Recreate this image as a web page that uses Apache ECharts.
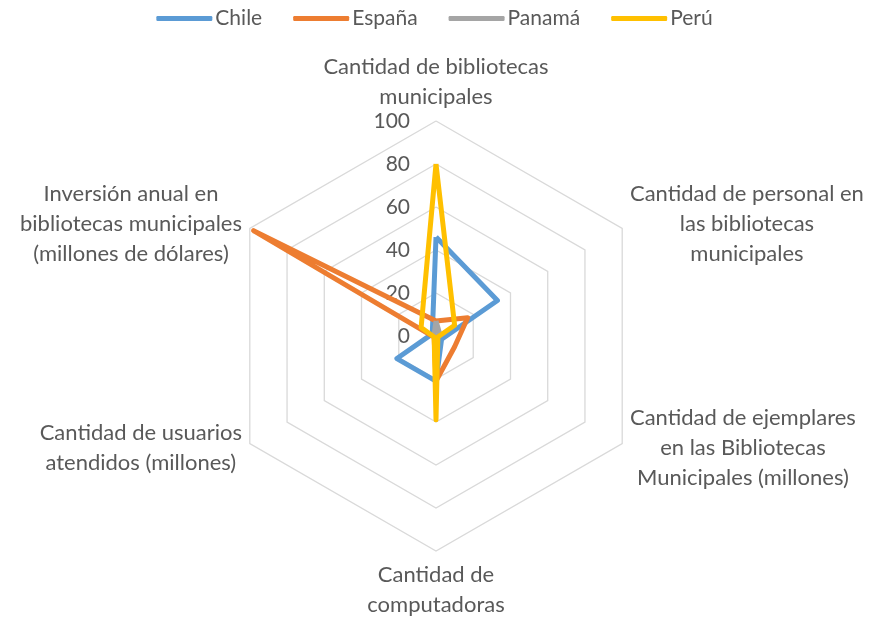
<!DOCTYPE html>
<html>
<head>
<meta charset="utf-8">
<script src="https://cdn.jsdelivr.net/npm/echarts@6/dist/echarts.min.js"></script>
<style>
  html, body { margin: 0; padding: 0; background: #fff; }
  #chart { width: 869px; height: 617px; }
</style>
</head>
<body>
<div id="chart"></div>
<script>
// Axes in the order of the reference (clockwise from the top)
const categories = [
  'Cantidad de bibliotecas\nmunicipales',
  'Cantidad de personal en\nlas bibliotecas\nmunicipales',
  'Cantidad de ejemplares\nen las Bibliotecas\nMunicipales (millones)',
  'Cantidad de\ncomputadoras',
  'Cantidad de usuarios\natendidos (millones)',
  'Inversión anual en\nbibliotecas municipales\n(millones de dólares)',
];

const countries = ['Chile', 'España', 'Panamá', 'Perú'];

const chileValues = [46, 33, 3, 21, 21, 2];
const espanaValues = [7, 17, 10, 21, 1, 98];
const panamaValues = [7, 2, 1, 1, 1, 1];
const peruValues = [80, 10, 1, 39, 1, 8];

const axisMax = 100;

const colors = ['#5B9BD5', '#ED7D31', '#A5A5A5', '#FFC000'];
const textColor = '#595959';
const fontFamily = 'Lato, "Open Sans", sans-serif';

// echarts lays indicators out counter-clockwise, so keep the first and flip the rest
const ccw = (arr) => [arr[0], ...arr.slice(1).reverse()];

const chart = echarts.init(document.getElementById('chart'));

const indicators = ccw(categories).map((name, i) => ({
  name,
  max: axisMax,
  min: 0,
  axisLabel: { show: i === 0 },
}));

const seriesValues = [chileValues, espanaValues, panamaValues, peruValues];

chart.setOption({
  animation: false,
  color: colors,
  legend: {
    data: countries,
    top: 3,
    left: 'center',
    icon: 'roundRect',
    itemWidth: 56,
    itemHeight: 5,
    itemGap: 31,
    textStyle: {
      color: textColor,
      fontSize: 21,
      fontFamily,
      padding: [0, 0, 0, -2],
    },
  },
  radar: {
    center: [436, 336],
    radius: 215,
    shape: 'polygon',
    splitNumber: 5,
    indicator: indicators,
    axisName: {
      color: textColor,
      fontSize: 22,
      fontFamily,
      formatter: (name) =>
        name
          .split('\n')
          .map((s) => `{c|${s}}`)
          .join('\n'),
      rich: {
        c: {
          align: 'center',
          color: textColor,
          fontSize: 22,
          fontFamily,
          lineHeight: 30,
        },
      },
    },
    nameGap: 9,
    axisLine: { show: false },
    axisTick: { show: false },
    axisLabel: {
      show: false,
      color: textColor,
      fontSize: 21,
      fontFamily,
      margin: 26,
    },
    splitLine: {
      lineStyle: { color: '#D9D9D9', width: 1.3 },
    },
    splitArea: { show: false },
  },
  series: [
    {
      type: 'radar',
      symbol: 'none',
      data: seriesValues.map((vals, i) => ({
        name: countries[i],
        value: ccw(vals),
        lineStyle: { width: 5, color: colors[i] },
        itemStyle: { color: colors[i] },
      })),
    },
  ],
});
</script>
</body>
</html>
